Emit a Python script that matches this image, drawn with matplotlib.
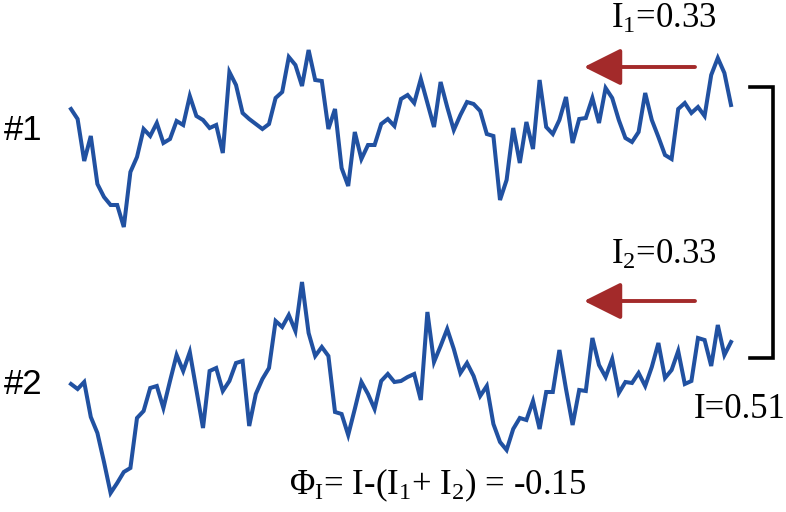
'''
Imports:
'''
import numpy as np
import matplotlib
matplotlib.use("Agg")
import matplotlib.pyplot as plt

'''
Data (signal amplitude of each recording, one sample per step):
'''
trace_1 = [147, 137, 95, 120, 72, 59, 51, 51, 29, 84, 99, 127, 120, 133, 113, 117, 135, 131, 160, 140,
           136, 128, 131, 103, 184, 171, 143, 137, 132, 127, 132, 158, 164, 199,
           191, 170, 206, 176, 175, 127, 147, 88, 70, 124, 97, 111, 111, 132, 137, 130, 157, 161, 153, 177,
           153, 129, 174, 149, 126, 141, 154, 152, 145, 122, 120, 56, 76,
           128, 93, 134, 107, 176, 129, 122, 136, 159, 113, 137, 138, 158, 133, 168, 158, 136, 118, 114, 124,
           163, 136, 119, 101, 97, 147, 153, 143, 149, 140, 181, 198, 183, 151]
trace_2 = [128, 123, 130, 95, 79, 50, 19, 29, 40, 44, 94, 101, 124, 126, 104, 131, 157, 141, 160, 122,
           84, 141, 144, 121, 131, 149, 151, 86, 118, 133, 144, 191, 185, 197,
           181, 230, 179, 156, 165, 156, 100, 98, 77, 103, 130, 118, 103, 131, 138, 130, 131, 135, 138, 112,
           200, 150, 166, 183, 163, 139, 149, 136, 116, 126, 88, 70, 62,
           83, 94, 92, 111, 83, 120, 120, 162, 123, 87, 122, 121, 174, 147, 135, 153, 119, 130, 129, 139,
           126, 145, 169, 134, 142, 161, 128, 131, 174, 172, 146, 187, 157, 170]

labels = ["#1", "#2"]
info_1 = "I$_1$=0.33"
info_2 = "I$_2$=0.33"
info_joint = "I=0.51"
phi_text = r"$\Phi_\mathrm{I}$= I-(I$_1$+ I$_2$) = -0.15"

line_color = "#2151a1"
arrow_color = "#a32a2a"


def draw_traces():
    '''
    Setup:
    '''
    plt.rcParams["mathtext.fontset"] = "custom"
    plt.rcParams["mathtext.rm"] = "Liberation Serif"
    plt.rcParams["mathtext.it"] = "Liberation Serif:italic"
    plt.rcParams["mathtext.bf"] = "Liberation Serif:bold"

    fig = plt.figure(figsize=(7.86, 5.12), dpi=100)
    # overlay in pixel units for the annotations
    ax = fig.add_axes([0, 0, 1, 1])
    ax.set_xlim(0, 786)
    ax.set_ylim(512, 0)
    ax.axis("off")

    '''
    Traces:
    '''
    for sig, bottom in [(trace_1, 0.5), (trace_2, 0.0)]:
        tax = fig.add_axes([71 / 786, bottom, 660 / 786, 0.5])
        tax.plot(np.arange(len(sig)), sig, color=line_color, lw=2.9,
                 solid_joinstyle="miter", clip_on=False)
        tax.set_xlim(0, len(sig) - 1)
        tax.set_ylim(0, 256)
        tax.axis("off")

    '''
    Labels, arrows, bracket:
    '''
    ax.text(4, 131, labels[0], fontsize=25, family="Liberation Sans", va="center", ha="left")
    ax.text(4, 385, labels[1], fontsize=25, family="Liberation Sans", va="center", ha="left")

    serif = dict(fontsize=25, family="Liberation Serif", va="center")
    ax.text(611, 19, info_1, ha="left", **serif)
    ax.text(611, 255, info_2, ha="left", **serif)
    ax.text(786, 410, info_joint, ha="right", **serif)
    ax.text(289, 485, phi_text, ha="left", **serif)

    for y in [67, 301]:
        ax.annotate("", xy=(584, y), xytext=(695, y),
                    arrowprops=dict(arrowstyle="-|>,head_length=2.3,head_width=1.15",
                                    lw=2.8, color=arrow_color, shrinkA=0, shrinkB=0))

    ax.plot([750, 773, 773, 750], [87, 87, 358, 358], color="black", lw=2.6,
            solid_joinstyle="miter")

    fig.savefig("out.png", dpi=100, facecolor="white")


'''
Call Functions:
'''
draw_traces()
